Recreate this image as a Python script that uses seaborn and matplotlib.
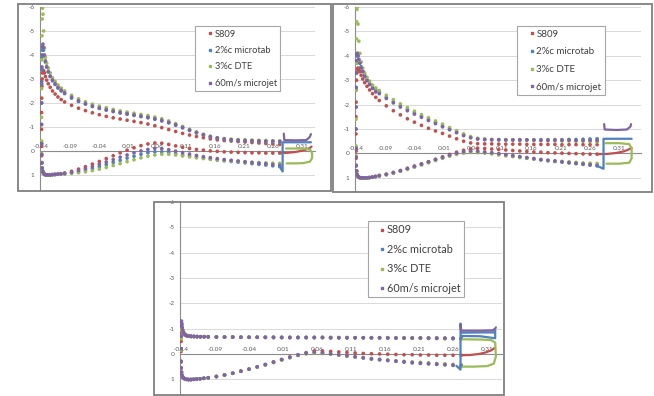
"""
Pressure coefficient distributions on the S809 aerofoil with three
trailing-edge load control devices (three Excel-style panels).
"""

import numpy as np
import pandas as pd
import matplotlib
matplotlib.use("Agg")
import matplotlib.pyplot as plt
from matplotlib.lines import Line2D
from matplotlib.patches import Rectangle
import seaborn as sns

W, H = 654, 396

SERIES = ["S809", "2%c microtab", "3%c DTE", "60m/s microjet"]
COLORS = {
    "S809": "#C0504D",
    "2%c microtab": "#4F81BD",
    "3%c DTE": "#9BBB59",
    "60m/s microjet": "#8064A2",
}

X_TICKS = [-0.14, -0.09, -0.04, 0.01, 0.06, 0.11, 0.16, 0.21, 0.26, 0.31]
Y_TICKS = [-6, -5, -4, -3, -2, -1, 0, 1]

# chordwise stations (m), suction side and pressure side
x_upper = [-0.1400, -0.1399, -0.1398, -0.1396, -0.1393, -0.1389, -0.1383, -0.1375, -0.1364,
           -0.1350, -0.1332, -0.1310, -0.1283, -0.1250, -0.1210, -0.1165, -0.1115, -0.1060,
           -0.100, -0.088, -0.076, -0.064, -0.052, -0.040, -0.028, -0.016, -0.004, 0.008,
           0.020, 0.032, 0.044, 0.056, 0.068, 0.080, 0.092, 0.104, 0.116, 0.128, 0.140,
           0.152, 0.164, 0.176, 0.188, 0.200, 0.212, 0.224, 0.236, 0.248, 0.260, 0.272]
x_lower = [-0.1400, -0.1398, -0.1394, -0.1388, -0.1378, -0.1364, -0.1345, -0.1320, -0.1290,
           -0.1255, -0.1215, -0.1170, -0.1120, -0.1065,
           -0.100, -0.088, -0.076, -0.064, -0.052, -0.040, -0.028, -0.016, -0.004, 0.008,
           0.020, 0.032, 0.044, 0.056, 0.068, 0.080, 0.092, 0.104, 0.116, 0.128, 0.140,
           0.152, 0.164, 0.176, 0.188, 0.200, 0.212, 0.224, 0.236, 0.248, 0.260, 0.272]

# ---- panel 1 (top left) ----
p1_upper = {
    "S809": [-0.2, -0.9, -1.6, -2.2, -2.7, -3.0, -3.25, -3.35, -3.35, -3.25, -3.1, -2.95, -2.8,
             -2.65, -2.5, -2.37, -2.25, -2.14,
             -2.04, -1.9, -1.78, -1.68, -1.59, -1.51, -1.44, -1.38, -1.33, -1.28, -1.23, -1.18,
             -1.12, -1.05, -0.97, -0.89, -0.81, -0.73, -0.66, -0.6, -0.55, -0.5, -0.46, -0.43,
             -0.41, -0.39, -0.37, -0.35, -0.33, -0.31, -0.29, -0.27],
    "2%c microtab": [-0.3, -1.1, -2.0, -2.8, -3.4, -3.9, -4.2, -4.3, -4.2, -3.95, -3.7, -3.5,
                     -3.3, -3.1, -2.92, -2.77, -2.62, -2.5,
                     -2.39, -2.2, -2.06, -1.95, -1.85, -1.77, -1.7, -1.64, -1.58, -1.53, -1.48,
                     -1.43, -1.38, -1.32, -1.25, -1.17, -1.07, -0.96, -0.85, -0.75, -0.66, -0.58,
                     -0.52, -0.48, -0.45, -0.43, -0.42, -0.41, -0.4, -0.39, -0.38, -0.37],
    "3%c DTE": [-0.4, -1.4, -2.6, -3.8, -4.8, -5.5, -5.95, -5.7, -5.0, -4.3, -3.9, -3.65, -3.45,
                -3.25, -3.05, -2.9, -2.75, -2.62,
                -2.5, -2.32, -2.17, -2.05, -1.95, -1.87, -1.8, -1.73, -1.67, -1.62, -1.57, -1.52,
                -1.47, -1.41, -1.34, -1.25, -1.14, -1.02, -0.9, -0.79, -0.69, -0.61, -0.55, -0.51,
                -0.49, -0.47, -0.46, -0.45, -0.44, -0.43, -0.42, -0.41],
    "60m/s microjet": [-0.3, -1.1, -2.0, -2.9, -3.5, -4.0, -4.35, -4.45, -4.3, -4.0, -3.75, -3.5,
                       -3.3, -3.12, -2.95, -2.8, -2.65, -2.53,
                       -2.42, -2.24, -2.09, -1.97, -1.87, -1.79, -1.72, -1.66, -1.6, -1.55, -1.5,
                       -1.45, -1.4, -1.34, -1.27, -1.19, -1.09, -0.98, -0.87, -0.77, -0.68, -0.6,
                       -0.54, -0.5, -0.47, -0.45, -0.44, -0.43, -0.42, -0.41, -0.41, -0.4],
}
p1_lower = {
    "S809": [-0.2, 0.2, 0.5, 0.72, 0.86, 0.94, 0.98, 1.0, 1.0, 1.0, 0.99, 0.98, 0.97, 0.95,
             0.92, 0.85, 0.76, 0.66, 0.55, 0.44, 0.32, 0.2, 0.08, -0.03, -0.13, -0.22, -0.29,
             -0.33, -0.32, -0.27, -0.21, -0.15, -0.1, -0.06, -0.03, 0.0, 0.02, 0.04, 0.05, 0.06,
             0.07, 0.08, 0.08, 0.09, 0.09, 0.09],
    "2%c microtab": [-0.3, 0.15, 0.5, 0.72, 0.86, 0.94, 0.98, 1.0, 1.0, 1.0, 0.99, 0.98, 0.97,
                     0.96,
                     0.95, 0.92, 0.87, 0.81, 0.74, 0.66, 0.57, 0.48, 0.39, 0.3, 0.22, 0.14, 0.08,
                     0.04, 0.04, 0.07, 0.11, 0.16, 0.21, 0.26, 0.3, 0.34, 0.38, 0.41, 0.44, 0.47,
                     0.5, 0.53, 0.56, 0.59, 0.62, 0.65],
    "3%c DTE": [-0.4, 0.1, 0.48, 0.72, 0.86, 0.94, 0.98, 1.0, 1.0, 1.0, 1.0, 0.99, 0.98, 0.97,
                0.96, 0.94, 0.91, 0.87, 0.82, 0.76, 0.69, 0.61, 0.53, 0.45, 0.37, 0.29, 0.22,
                0.17, 0.14, 0.14, 0.17, 0.21, 0.25, 0.29, 0.32, 0.35, 0.38, 0.4, 0.42, 0.44,
                0.46, 0.48, 0.49, 0.5, 0.51, 0.52],
    "60m/s microjet": [-0.3, 0.15, 0.5, 0.72, 0.86, 0.94, 0.98, 1.0, 1.0, 1.0, 0.99, 0.98, 0.97,
                       0.96,
                       0.94, 0.89, 0.82, 0.74, 0.65, 0.56, 0.46, 0.36, 0.26, 0.17, 0.08, 0.0,
                       -0.06, -0.1, -0.09, -0.05, 0.01, 0.07, 0.13, 0.19, 0.24, 0.28, 0.32, 0.36,
                       0.39, 0.42, 0.45, 0.48, 0.51, 0.54, 0.57, 0.6],
}
p1_te = {
    "S809": ([0.272, 0.285, 0.298, 0.309, 0.318, 0.324, 0.327],
             [0.09, 0.08, 0.05, 0.0, -0.06, -0.12, -0.18]),
    "2%c microtab": ([0.272, 0.277, 0.277, 0.300, 0.326],
                     [0.65, 0.86, -0.36, -0.36, -0.36]),
    "3%c DTE": ([0.283, 0.300, 0.318, 0.325, 0.328, 0.328, 0.324, 0.312, 0.298, 0.284],
                [-0.1, -0.1, -0.09, -0.04, 0.1, 0.3, 0.45, 0.51, 0.52, 0.52]),
    "60m/s microjet": ([0.279, 0.280, 0.300, 0.318, 0.324, 0.326],
                       [-0.72, -0.45, -0.44, -0.45, -0.58, -0.7]),
}

# ---- panel 2 (top right) ----
p2_upper = {
    "S809": [-0.1, -0.8, -1.5, -2.1, -2.6, -3.0, -3.3, -3.45, -3.5, -3.45, -3.35, -3.2, -3.05,
             -2.9, -2.75, -2.6, -2.45, -2.3,
             -2.17, -1.95, -1.75, -1.58, -1.42, -1.28, -1.15, -1.03, -0.92, -0.82, -0.71, -0.6,
             -0.5, -0.43, -0.4, -0.39, -0.39, -0.38, -0.38, -0.38, -0.38, -0.37, -0.37, -0.37,
             -0.37, -0.37, -0.36, -0.36, -0.36, -0.36, -0.36, -0.36],
    "2%c microtab": [-0.2, -1.0, -1.9, -2.7, -3.3, -3.7, -4.0, -4.1, -4.0, -3.85, -3.7, -3.55,
                     -3.38, -3.2, -3.02, -2.86, -2.7, -2.6,
                     -2.5, -2.3, -2.12, -1.95, -1.8, -1.66, -1.52, -1.39, -1.26, -1.13, -1.0,
                     -0.88, -0.76, -0.66, -0.6, -0.57, -0.56, -0.56, -0.56, -0.56, -0.56, -0.56,
                     -0.56, -0.56, -0.56, -0.56, -0.56, -0.57, -0.57, -0.58, -0.59, -0.6],
    "3%c DTE": [-0.3, -1.4, -2.6, -3.7, -4.7, -5.4, -5.9, -6.0, -5.3, -4.6, -4.1, -3.75, -3.5,
                -3.3, -3.12, -2.96, -2.8, -2.68,
                -2.58, -2.38, -2.2, -2.03, -1.88, -1.73, -1.59, -1.46, -1.33, -1.2, -1.06, -0.93,
                -0.8, -0.69, -0.62, -0.59, -0.57, -0.56, -0.55, -0.55, -0.54, -0.54, -0.53,
                -0.53, -0.52, -0.52, -0.51, -0.51, -0.5, -0.5, -0.49, -0.48],
    "60m/s microjet": [-0.2, -1.0, -1.9, -2.7, -3.3, -3.8, -4.05, -4.1, -4.0, -3.85, -3.7, -3.5,
                       -3.35, -3.15, -2.98, -2.82, -2.66, -2.52,
                       -2.45, -2.25, -2.07, -1.9, -1.75, -1.61, -1.48, -1.35, -1.22, -1.09,
                       -0.97, -0.85, -0.73, -0.64, -0.59, -0.57, -0.56, -0.56, -0.55, -0.55,
                       -0.55, -0.55, -0.55, -0.54, -0.54, -0.54, -0.54, -0.54, -0.53, -0.53,
                       -0.53, -0.53],
}
p2_lower = {
    "S809": [-0.1, 0.2, 0.5, 0.72, 0.86, 0.94, 0.98, 1.0, 1.0, 1.0, 1.0, 0.99, 0.97, 0.94,
             0.9, 0.85, 0.78, 0.7, 0.61, 0.52, 0.43, 0.34, 0.24, 0.14, 0.04, -0.05, -0.13,
             -0.19, -0.21, -0.2, -0.18, -0.16, -0.14, -0.12, -0.1, -0.08, -0.06, -0.05, -0.03,
             -0.02, -0.01, 0.0, 0.01, 0.02, 0.03, 0.03],
    "2%c microtab": [-0.2, 0.15, 0.5, 0.72, 0.86, 0.94, 0.98, 1.0, 1.0, 1.0, 1.0, 0.99, 0.97,
                     0.95,
                     0.92, 0.87, 0.8, 0.72, 0.64, 0.55, 0.46, 0.37, 0.27, 0.18, 0.09, 0.01,
                     -0.05, -0.08, -0.07, -0.04, -0.01, 0.03, 0.07, 0.11, 0.15, 0.19, 0.23, 0.27,
                     0.3, 0.33, 0.36, 0.39, 0.42, 0.45, 0.48, 0.51],
    "3%c DTE": [-0.3, 0.1, 0.48, 0.72, 0.86, 0.94, 0.98, 1.0, 1.0, 1.0, 1.0, 0.99, 0.98, 0.95,
                0.92, 0.87, 0.81, 0.73, 0.65, 0.56, 0.47, 0.38, 0.29, 0.2, 0.11, 0.04, -0.01,
                -0.04, -0.03, -0.01, 0.02, 0.06, 0.1, 0.13, 0.17, 0.2, 0.23, 0.26, 0.29, 0.31,
                0.33, 0.35, 0.37, 0.39, 0.4, 0.41],
    "60m/s microjet": [-0.2, 0.15, 0.5, 0.72, 0.86, 0.94, 0.98, 1.0, 1.0, 1.0, 1.0, 0.99, 0.97,
                       0.95,
                       0.91, 0.86, 0.79, 0.71, 0.62, 0.53, 0.44, 0.35, 0.25, 0.16, 0.07, -0.01,
                       -0.07, -0.1, -0.09, -0.06, -0.03, 0.01, 0.05, 0.09, 0.13, 0.17, 0.21,
                       0.25, 0.28, 0.31, 0.34, 0.37, 0.4, 0.43, 0.46, 0.49],
}
p2_te = {
    "S809": ([0.272, 0.290, 0.305, 0.317, 0.325, 0.331],
             [0.03, 0.02, -0.02, -0.08, -0.15, -0.23]),
    "2%c microtab": ([0.272, 0.283, 0.283, 0.305, 0.331],
                     [0.51, 0.63, -0.6, -0.6, -0.6]),
    "3%c DTE": ([0.286, 0.310, 0.327, 0.331, 0.331, 0.327, 0.310, 0.288],
                [-0.42, -0.42, -0.38, -0.2, 0.2, 0.38, 0.42, 0.42]),
    "60m/s microjet": ([0.284, 0.285, 0.305, 0.323, 0.329, 0.330],
                       [-1.2, -0.98, -0.96, -0.98, -1.1, -1.2]),
}

# ---- panel 3 (bottom) ----
p3_upper = {
    "S809": [0.3, -0.1, -0.5, -0.85, -1.05, -1.0, -0.93, -0.86, -0.8, -0.76, -0.73, -0.71, -0.7,
             -0.69, -0.69, -0.68, -0.68, -0.68,
             -0.67, -0.67, -0.66, -0.66, -0.66, -0.66, -0.66, -0.65, -0.65, -0.65, -0.65,
             -0.65, -0.65, -0.65, -0.65, -0.64, -0.64, -0.64, -0.64, -0.64, -0.64, -0.64,
             -0.64, -0.63, -0.63, -0.63, -0.63, -0.63, -0.63, -0.62, -0.62, -0.62],
    "2%c microtab": [0.3, -0.2, -0.7, -1.05, -1.2, -1.15, -1.02, -0.92, -0.84, -0.78, -0.75,
                     -0.72, -0.7, -0.69, -0.69, -0.68, -0.68, -0.68,
                     -0.68, -0.67, -0.67, -0.67, -0.66, -0.66, -0.66, -0.66, -0.65, -0.65,
                     -0.65, -0.65, -0.65, -0.65, -0.65, -0.64, -0.64, -0.64, -0.64, -0.64,
                     -0.64, -0.64, -0.64, -0.63, -0.63, -0.63, -0.63, -0.63, -0.62, -0.62,
                     -0.62, -0.62],
    "3%c DTE": [0.3, -0.15, -0.6, -0.95, -1.1, -1.05, -0.97, -0.89, -0.82, -0.77, -0.74, -0.72,
                -0.71, -0.7, -0.69, -0.69, -0.68, -0.68,
                -0.68, -0.68, -0.67, -0.67, -0.67, -0.67, -0.66, -0.66, -0.66, -0.66, -0.66,
                -0.66, -0.65, -0.65, -0.65, -0.65, -0.65, -0.65, -0.64, -0.64, -0.64, -0.64,
                -0.64, -0.64, -0.63, -0.63, -0.62, -0.62, -0.61, -0.6, -0.6, -0.59],
    "60m/s microjet": [0.3, -0.2, -0.7, -1.1, -1.3, -1.2, -1.05, -0.94, -0.85, -0.79, -0.75,
                       -0.72, -0.71, -0.7, -0.69, -0.69, -0.68, -0.68,
                       -0.68, -0.67, -0.67, -0.67, -0.66, -0.66, -0.66, -0.66, -0.66, -0.65,
                       -0.65, -0.65, -0.65, -0.65, -0.65, -0.65, -0.64, -0.64, -0.64, -0.64,
                       -0.64, -0.64, -0.63, -0.63, -0.63, -0.63, -0.63, -0.62, -0.62, -0.62,
                       -0.61, -0.61],
}
p3_lower = {
    "S809": [0.3, 0.55, 0.72, 0.83, 0.9, 0.95, 0.98, 1.0, 1.01, 1.01, 1.0, 0.99, 0.98, 0.96,
             0.94, 0.89, 0.83, 0.76, 0.68, 0.6, 0.51, 0.42, 0.32, 0.22, 0.12, 0.03, -0.05,
             -0.12, -0.12, -0.1, -0.08, -0.06, -0.04, -0.02, -0.01, 0.0, 0.01, 0.02, 0.03,
             0.03, 0.04, 0.04, 0.05, 0.05, 0.05, 0.05],
    "2%c microtab": [0.3, 0.55, 0.72, 0.83, 0.9, 0.95, 0.98, 1.0, 1.01, 1.01, 1.0, 0.99, 0.98,
                     0.96,
                     0.94, 0.89, 0.83, 0.76, 0.68, 0.6, 0.51, 0.42, 0.33, 0.23, 0.14, 0.05,
                     -0.02, -0.06, -0.04, 0.0, 0.04, 0.08, 0.12, 0.16, 0.2, 0.23, 0.26, 0.29,
                     0.32, 0.35, 0.37, 0.39, 0.41, 0.43, 0.45, 0.47],
    "3%c DTE": [0.3, 0.55, 0.72, 0.83, 0.9, 0.95, 0.98, 1.0, 1.01, 1.01, 1.0, 0.99, 0.98, 0.96,
                0.94, 0.89, 0.83, 0.76, 0.68, 0.6, 0.52, 0.43, 0.34, 0.24, 0.15, 0.06, 0.0,
                -0.04, -0.02, 0.01, 0.05, 0.09, 0.12, 0.15, 0.18, 0.21, 0.24, 0.27, 0.29, 0.31,
                0.33, 0.35, 0.37, 0.39, 0.41, 0.43],
    "60m/s microjet": [0.3, 0.55, 0.72, 0.83, 0.9, 0.95, 0.98, 1.0, 1.01, 1.01, 1.0, 0.99, 0.98,
                       0.96,
                       0.94, 0.89, 0.83, 0.76, 0.68, 0.6, 0.51, 0.42, 0.32, 0.22, 0.13, 0.04,
                       -0.03, -0.07, -0.05, -0.01, 0.03, 0.07, 0.11, 0.15, 0.19, 0.22, 0.25,
                       0.28, 0.31, 0.34, 0.36, 0.38, 0.4, 0.42, 0.44, 0.46],
}
p3_te = {
    "S809": ([0.272, 0.285, 0.298, 0.308, 0.316, 0.322],
             [0.05, 0.04, 0.0, -0.06, -0.14, -0.25]),
    "2%c microtab": ([0.265, 0.271, 0.271, 0.272, 0.300, 0.320, 0.322, 0.322, 0.300, 0.272],
                     [0.47, 0.62, -1.2, -0.84, -0.85, -0.85, -0.95, -0.62, -0.7, -0.71]),
    "3%c DTE": ([0.274, 0.300, 0.316, 0.322, 0.323, 0.320, 0.310, 0.290, 0.274],
                [-0.58, -0.57, -0.55, -0.45, 0.1, 0.38, 0.48, 0.5, 0.5]),
    "60m/s microjet": ([0.271, 0.272, 0.300, 0.318, 0.322, 0.323],
                       [-1.15, -0.92, -0.92, -0.93, -1.0, -1.05]),
}

# legend layout per panel: top-left corner (px), font size, spacing, pads
LEGEND_STYLE = {
    "p1": dict(at=(195, 26), fs=6.7, ls=0.8, bp=0.38, hl=2.4, htp=-0.68),
    "p2": dict(at=(517, 26), fs=7.0, ls=0.88, bp=0.4, hl=2.3, htp=-0.7),
    "p3": dict(at=(368, 221), fs=7.8, ls=0.78, bp=0.32, hl=2.0, htp=-0.6),
}


def px_axes(fig, left, top, right, bottom):
    """Add axes from pixel box (top-left origin)."""
    return fig.add_axes([left / W, 1 - bottom / H, (right - left) / W, (bottom - top) / H])


def add_frame(fig, left, top, right, bottom):
    """Grey chart-area border like an Excel chart."""
    fig.add_artist(Rectangle((left / W, 1 - bottom / H), (right - left) / W,
                             (bottom - top) / H, transform=fig.transFigure,
                             fill=False, edgecolor="#808080", linewidth=1.3))


def to_long(upper, lower):
    """Stack suction and pressure side points into one frame, series by series."""
    rows = []
    for name in SERIES:
        for x, cp in zip(x_upper, upper[name]):
            rows.append((name, x, cp))
        for x, cp in zip(x_lower, lower[name]):
            rows.append((name, x, cp))
    return pd.DataFrame(rows, columns=["series", "x", "cp"])


def draw_panel(fig, box, xlim, ylim_bottom, upper, lower, te, lg):
    ax = px_axes(fig, *box)
    df = to_long(upper, lower)

    sns.scatterplot(data=df, x="x", y="cp", hue="series", hue_order=SERIES,
                    palette=COLORS, s=7, linewidth=0, legend=False, ax=ax, zorder=3)
    for name in SERIES:
        xs, cps = te[name]
        ax.plot(xs, cps, color=COLORS[name], lw=1.6, zorder=4)

    ax.set_xlim(*xlim)
    ax.set_ylim(ylim_bottom, -6)
    ax.set_xlabel("")
    ax.set_ylabel("")

    # y axis: Cp, reversed, light horizontal gridlines
    ax.set_yticks(Y_TICKS)
    ax.set_yticklabels([str(v) for v in Y_TICKS])
    ax.yaxis.grid(True, color="#d9d9d9", lw=0.7)
    ax.xaxis.grid(False)
    ax.set_axisbelow(True)
    ax.tick_params(axis="y", length=0, pad=4, labelsize=4.6, labelcolor="#595959")

    # x axis crosses at Cp = 0, labels sitting above it
    ax.set_xticks(X_TICKS)
    ax.set_xticklabels([f"{v:.2f}" for v in X_TICKS])
    ax.xaxis.set_ticks_position("top")
    ax.spines["top"].set_position(("data", 0))
    ax.tick_params(axis="x", length=0, pad=1.5, labelsize=4.6, labelcolor="#595959")

    for side in ["right", "bottom"]:
        ax.spines[side].set_visible(False)
    for side in ["left", "top"]:
        ax.spines[side].set_color("#8c8c8c")
        ax.spines[side].set_linewidth(0.8)

    handles = [Line2D([], [], ls="", marker="s", ms=1.6, color=COLORS[n]) for n in SERIES]
    leg = ax.legend(handles, SERIES, loc="upper left",
                    bbox_to_anchor=(lg["at"][0] / W, 1 - lg["at"][1] / H),
                    bbox_transform=fig.transFigure, borderaxespad=0,
                    fontsize=lg["fs"], handlelength=lg["hl"], handletextpad=lg["htp"],
                    labelspacing=lg["ls"], borderpad=lg["bp"], frameon=True,
                    fancybox=False, framealpha=1, edgecolor="#a6a6a6",
                    labelcolor="#404040")
    leg.get_frame().set_linewidth(0.8)
    return ax


def main():
    sns.set_style("white")
    plt.rcParams["font.family"] = ["Lato", "DejaVu Sans"]
    plt.rcParams["axes.unicode_minus"] = False

    fig = plt.figure(figsize=(W / 100, H / 100), dpi=100)
    fig.patch.set_facecolor("white")

    add_frame(fig, 18, 4, 331, 191)
    add_frame(fig, 333, 4, 652, 192)
    add_frame(fig, 154, 202, 504, 395)

    draw_panel(fig, (40, 7, 315, 190), (-0.1426, 0.333), 1.63,
               p1_upper, p1_lower, p1_te, LEGEND_STYLE["p1"])
    draw_panel(fig, (355, 7, 641, 191), (-0.1415, 0.347), 1.54,
               p2_upper, p2_lower, p2_te, LEGEND_STYLE["p2"])
    draw_panel(fig, (180, 202, 502, 395), (-0.1415, 0.332), 1.62,
               p3_upper, p3_lower, p3_te, LEGEND_STYLE["p3"])

    fig.savefig("out.png", dpi=100)


if __name__ == "__main__":
    main()
